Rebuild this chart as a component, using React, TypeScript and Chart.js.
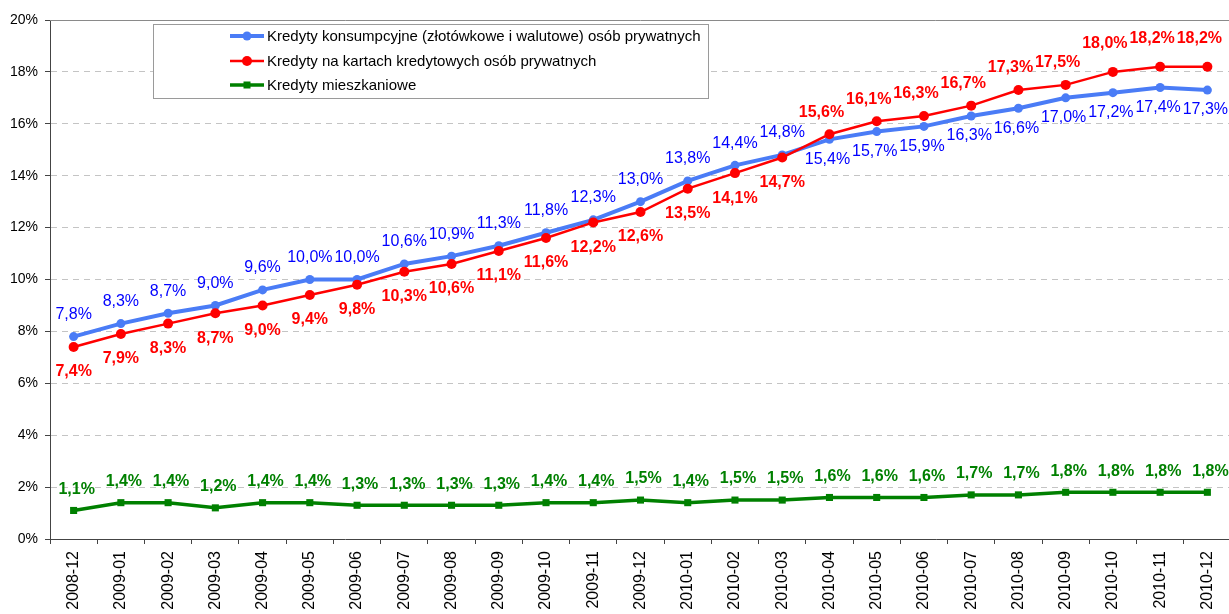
import React, { useEffect, useRef } from "react";
import { Chart, registerables } from "chart.js";

Chart.register(...registerables);

const categories = [
  "2008-12", "2009-01", "2009-02", "2009-03", "2009-04", "2009-05", "2009-06",
  "2009-07", "2009-08", "2009-09", "2009-10", "2009-11", "2009-12", "2010-01",
  "2010-02", "2010-03", "2010-04", "2010-05", "2010-06", "2010-07", "2010-08",
  "2010-09", "2010-10", "2010-11", "2010-12",
];

const consumerLoans = [
  7.8, 8.3, 8.7, 9.0, 9.6, 10.0, 10.0, 10.6, 10.9, 11.3, 11.8, 12.3, 13.0, 13.8,
  14.4, 14.8, 15.4, 15.7, 15.9, 16.3, 16.6, 17.0, 17.2, 17.4, 17.3,
];

const cardLoans = [
  7.4, 7.9, 8.3, 8.7, 9.0, 9.4, 9.8, 10.3, 10.6, 11.1, 11.6, 12.2, 12.6, 13.5,
  14.1, 14.7, 15.6, 16.1, 16.3, 16.7, 17.3, 17.5, 18.0, 18.2, 18.2,
];

const mortgageLoans = [
  1.1, 1.4, 1.4, 1.2, 1.4, 1.4, 1.3, 1.3, 1.3, 1.3, 1.4, 1.4, 1.5, 1.4, 1.5,
  1.5, 1.6, 1.6, 1.6, 1.7, 1.7, 1.8, 1.8, 1.8, 1.8,
];

const seriesNames = [
  "Kredyty konsumpcyjne (złotówkowe i walutowe) osób prywatnych",
  "Kredyty na kartach kredytowych osób prywatnych",
  "Kredyty mieszkaniowe",
];

const yMin = 0;
const yMax = 20;
const yStep = 2;

// category from which the blue / red labels swap sides
const swapCategory = "2010-04";

const FONT = "'Liberation Sans', Arial, Helvetica, sans-serif";

const fmt = (v: number) => v.toFixed(1).replace(".", ",") + "%";

const labelPlugin = {
  id: "pointValueLabels",
  afterDatasetsDraw(chart: any) {
    const ctx = chart.ctx as CanvasRenderingContext2D;
    const swapIdx = categories.indexOf(swapCategory);
    ctx.save();
    ctx.textAlign = "center";
    ctx.textBaseline = "middle";
    chart.data.datasets.forEach((ds: any, di: number) => {
      const meta = chart.getDatasetMeta(di);
      ctx.fillStyle = ds.labelColor;
      ctx.font = `${ds.labelBold ? "bold " : ""}16px ${FONT}`;
      meta.data.forEach((pt: any, i: number) => {
        const v = ds.data[i] as number;
        let dx = 0;
        let dy = 0;
        if (di === 0) {
          if (i < swapIdx) {
            dy = -22;
          } else {
            dy = 20;
            dx = -2;
          }
        } else if (di === 1) {
          if (i < swapIdx) {
            dy = 25;
          } else {
            dy = v >= 18 ? -28 : -22;
            dx = -8;
          }
        } else {
          dy = -21;
          dx = 3;
        }
        ctx.fillText(fmt(v), pt.x + dx, pt.y + dy);
      });
    });
    ctx.restore();
  },
};

const frameLegendPlugin = {
  id: "frameLegend",
  beforeDatasetsDraw(chart: any) {
    const ctx = chart.ctx as CanvasRenderingContext2D;
    const area = chart.chartArea;
    ctx.save();
    // top plot border
    ctx.strokeStyle = "#8a8a8a";
    ctx.lineWidth = 1;
    ctx.beginPath();
    ctx.moveTo(area.left, Math.round(area.top) + 0.5);
    ctx.lineTo(area.right, Math.round(area.top) + 0.5);
    ctx.stroke();

    // legend box
    const bx = 153.5;
    const by = 24.5;
    const bw = 555;
    const bh = 74;
    ctx.fillStyle = "#ffffff";
    ctx.fillRect(bx, by, bw, bh);
    ctx.strokeStyle = "#9a9a9a";
    ctx.strokeRect(bx, by, bw, bh);

    const rows = [36, 61, 85];
    ctx.font = `15px ${FONT}`;
    ctx.textAlign = "left";
    ctx.textBaseline = "middle";
    chart.data.datasets.forEach((ds: any, di: number) => {
      const y = rows[di];
      ctx.strokeStyle = ds.borderColor;
      ctx.lineWidth = ds.borderWidth;
      ctx.beginPath();
      ctx.moveTo(230, y);
      ctx.lineTo(264, y);
      ctx.stroke();
      ctx.fillStyle = ds.pointBackgroundColor;
      if (ds.pointStyle === "rect") {
        ctx.fillRect(247 - 3.5, y - 3.5, 7, 7);
      } else {
        ctx.beginPath();
        ctx.arc(247, y, ds.pointRadius, 0, Math.PI * 2);
        ctx.fill();
      }
      ctx.fillStyle = "#000000";
      ctx.fillText(seriesNames[di], 267, y + 0.5);
    });
    ctx.restore();
  },
};

export default function App() {
  const canvasRef = useRef<HTMLCanvasElement | null>(null);

  useEffect(() => {
    if (!canvasRef.current) return;
    const chart = new Chart(canvasRef.current, {
      type: "line",
      data: {
        labels: categories,
        datasets: [
          {
            label: seriesNames[0],
            data: consumerLoans,
            borderColor: "#4a7cf6",
            backgroundColor: "#4a7cf6",
            pointBackgroundColor: "#4a7cf6",
            pointBorderColor: "#4a7cf6",
            borderWidth: 4,
            pointRadius: 4.5,
            pointBorderWidth: 0,
            pointStyle: "circle",
            tension: 0,
            order: 2,
            labelColor: "#0000ff",
            labelBold: false,
          } as any,
          {
            label: seriesNames[1],
            data: cardLoans,
            borderColor: "#ff0000",
            backgroundColor: "#ff0000",
            pointBackgroundColor: "#ff0000",
            pointBorderColor: "#ff0000",
            borderWidth: 2.5,
            pointRadius: 5,
            pointBorderWidth: 0,
            pointStyle: "circle",
            tension: 0,
            order: 1,
            labelColor: "#ff0000",
            labelBold: true,
          } as any,
          {
            label: seriesNames[2],
            data: mortgageLoans,
            borderColor: "#008000",
            backgroundColor: "#008000",
            pointBackgroundColor: "#008000",
            pointBorderColor: "#008000",
            borderWidth: 3.5,
            pointRadius: 5,
            pointBorderWidth: 0,
            pointStyle: "rect",
            tension: 0,
            order: 0,
            labelColor: "#008000",
            labelBold: true,
          } as any,
        ],
      },
      options: {
        responsive: false,
        animation: false,
        devicePixelRatio: 1,
        layout: { padding: { top: 20, right: 0, left: 0, bottom: 0 } },
        plugins: {
          legend: { display: false },
          tooltip: { enabled: false },
          title: { display: false },
        },
        scales: {
          x: {
            type: "category",
            offset: true,
            grid: {
              display: true,
              drawOnChartArea: false,
              drawTicks: true,
              tickLength: 5,
              offset: true,
              tickColor: "#444444",
              tickWidth: 1,
            },
            border: { display: true, color: "#444444", width: 1 },
            ticks: {
              autoSkip: false,
              minRotation: 90,
              maxRotation: 90,
              padding: 7,
              color: "#000000",
              font: { family: FONT, size: 16 },
            },
            afterFit(scale: any) {
              scale.height = 75;
              scale.paddingLeft = 0;
              scale.paddingRight = 0;
            },
          },
          y: {
            min: yMin,
            max: yMax,
            grid: {
              color: (c: any) =>
                c.tick && c.tick.value === yMax ? "rgba(0,0,0,0)" : "#c4c4c4",
              lineWidth: 1,
              drawTicks: true,
              tickLength: 5,
              tickColor: "#444444",
              tickWidth: 1,
            },
            border: { display: true, color: "#444444", width: 1, dash: [6, 5] },
            ticks: {
              stepSize: yStep,
              padding: 7,
              color: "#000000",
              font: { family: FONT, size: 14 },
              callback: (v: any) => `${v}%`,
            },
            afterFit(scale: any) {
              scale.width = 50;
              scale.paddingTop = 0;
              scale.paddingBottom = 0;
            },
          },
        },
      },
      plugins: [frameLegendPlugin, labelPlugin],
    });
    return () => chart.destroy();
  }, []);

  return (
    <div
      style={{
        position: "absolute",
        left: 0,
        top: 0,
        width: 1229,
        height: 614,
        overflow: "hidden",
        background: "#ffffff",
      }}
    >
      <canvas ref={canvasRef} width={1236} height={614} style={{ display: "block" }} />
    </div>
  );
}
